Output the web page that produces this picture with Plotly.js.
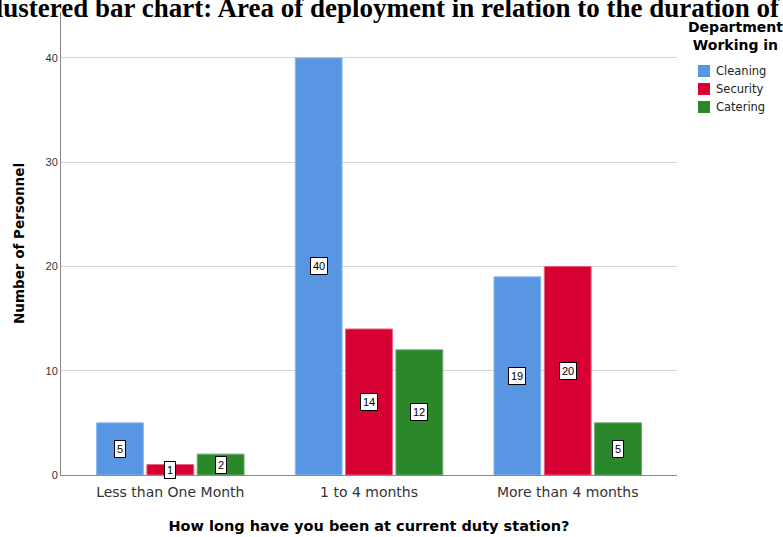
<!DOCTYPE html>
<html><head><meta charset="utf-8">
<script src="https://cdn.plot.ly/plotly-3.0.1.min.js"></script>
<style>html,body{margin:0;padding:0;background:#fff}#chart{width:783px;height:537px}</style>
</head><body><div id="chart"></div>
<script>
const categories = ["Less than One Month", "1 to 4 months", "More than 4 months"];
const seriesNames = ["Cleaning", "Security", "Catering"];
const cleaning = [5, 40, 19];
const security = [1, 14, 20];
const catering = [2, 12, 5];
const yTicks = [0, 10, 20, 30, 40];

const values = [cleaning, security, catering];
const colors = ["#5896e4", "#d70033", "#2a872a"];
const edges = ["#8fb8ee", "#e8607f", "#6aa96a"];
const SANS = "DejaVu Sans, Verdana, sans-serif";

const W = 783, H = 537;
const M = {l: 61, r: 106, t: 12, b: 62};
const pw = W - M.l - M.r, ph = H - M.t - M.b;
const px = p => (p - M.l) / pw;        // pixel -> paper x
const py = q => (H - M.b - q) / ph;    // pixel -> paper y

const traces = values.map((v, i) => ({
  type: "bar", name: seriesNames[i], x: categories, y: v,
  marker: {color: colors[i], line: {color: edges[i], width: 1}},
  hoverinfo: "none", showlegend: false
}));

const annotations = [];
const shapes = [];
const nS = values.length;
values.forEach((v, i) => {
  v.forEach((val, c) => {
    annotations.push({
      xref: "x", yref: "y", x: c + (i - (nS - 1) / 2) * 0.2533, y: val / 2,
      text: String(val), showarrow: false,
      font: {family: "Liberation Sans, Arial, sans-serif", size: 11, color: "#000"},
      bgcolor: "#fff", bordercolor: "#000", borderwidth: 1, borderpad: 2
    });
  });
});

// legend (manual, to match the reference spacing)
annotations.push({
  xref: "paper", yref: "paper", x: px(735), y: py(36), xanchor: "center", yanchor: "middle",
  text: "<b>Department<br>Working in</b>", showarrow: false, align: "center",
  font: {family: SANS, size: 14, color: "#000"}
});
seriesNames.forEach((name, i) => {
  const yc = 71 + i * 18;
  shapes.push({
    type: "rect", xref: "paper", yref: "paper",
    x0: px(698), x1: px(710), y0: py(yc - 6), y1: py(yc + 6),
    fillcolor: colors[i], line: {width: 0}
  });
  annotations.push({
    xref: "paper", yref: "paper", x: px(714), y: py(yc), xanchor: "left", yanchor: "middle",
    text: name, showarrow: false, font: {family: SANS, size: 11.5, color: "#222"}
  });
});

const layout = {
  width: W, height: H,
  margin: Object.assign({autoexpand: false}, M),
  paper_bgcolor: "#fff", plot_bgcolor: "#fff",
  barmode: "group", bargap: 0.24, bargroupgap: 0.07,
  showlegend: false,
  title: {
    text: "<b>Clustered bar chart: Area of deployment in relation to the duration of</b>",
    xref: "container", yref: "container", x: 779 / W, xanchor: "right",
    y: 1 - 8 / H, yanchor: "middle",
    font: {family: "Liberation Serif, Times New Roman, serif", size: 27, color: "#000"},
    pad: {t: 0, b: 0, l: 0, r: 0}
  },
  xaxis: {
    range: [-0.55, 2.55], showgrid: false, zeroline: false,
    showline: true, linecolor: "#888", linewidth: 1, ticks: "", ticklabelstandoff: 4,
    tickfont: {family: SANS, size: 14, color: "#333"},
    title: {text: "<b>How long have you been at current duty station?</b>", standoff: 22,
      font: {family: SANS, size: 14.5, color: "#000"}}
  },
  yaxis: {
    range: [0, 44.4], tickvals: yTicks, ticktext: yTicks.map(String),
    showgrid: true, gridcolor: "#d4d4d4", gridwidth: 1, zeroline: false,
    showline: true, linecolor: "#888", linewidth: 1, ticks: "",
    tickfont: {family: "Liberation Sans, Arial, sans-serif", size: 11, color: "#333"},
    title: {text: "<b>Number of Personnel</b>", standoff: 17,
      font: {family: SANS, size: 13.5, color: "#000"}}
  },
  annotations: annotations,
  shapes: shapes
};

Plotly.newPlot("chart", traces, layout, {displayModeBar: false, staticPlot: true});
</script></body></html>
